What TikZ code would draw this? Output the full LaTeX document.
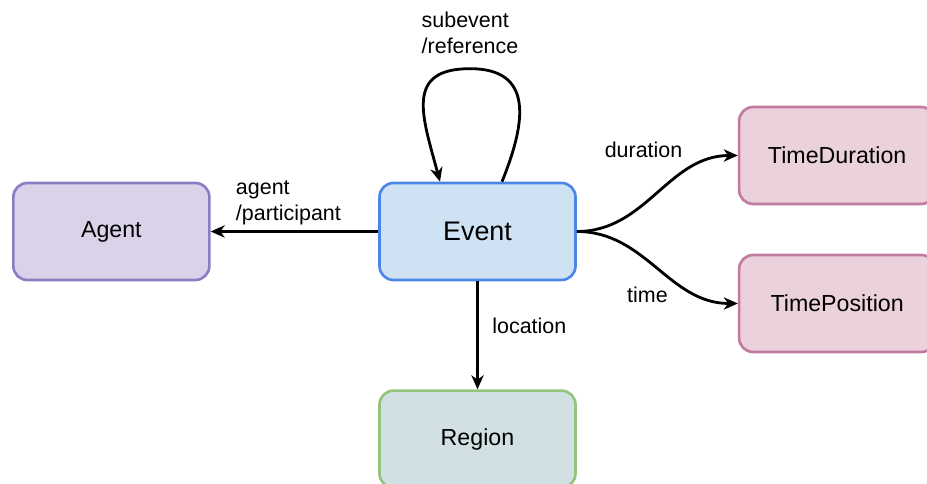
\documentclass[tikz,border=0pt]{standalone}
\usepackage{fontspec}
\setmainfont{Liberation Sans}
\usetikzlibrary{arrows.meta,positioning,calc}

\definecolor{evfill}{HTML}{CFE2F3}
\definecolor{evline}{HTML}{4A86E8}
\definecolor{agfill}{HTML}{D9D2E9}
\definecolor{agline}{HTML}{8E7CC3}
\definecolor{rgfill}{HTML}{D0E0E3}
\definecolor{rgline}{HTML}{93C47D}
\definecolor{tmfill}{HTML}{EAD1DC}
\definecolor{tmline}{HTML}{C27BA0}

\begin{document}
\begin{tikzpicture}[
            box/.style = {rectangle, draw, line width=1.5pt, minimum width=3.92cm, minimum height=1.94cm, align=center, rounded corners=0.28cm, font=\fontsize{13.2}{15}\selectfont},
            eventbox/.style = {box, draw=evline, fill=evfill, font=\fontsize{15.3}{18}\selectfont},
            agentbox/.style = {box, draw=agline, fill=agfill},
            regionbox/.style = {box, draw=rgline, fill=rgfill},
            timebox/.style = {box, draw=tmline, fill=tmfill},
            link/.style = {line width=1.6pt, -{Stealth[length=8pt, width=7pt, inset=2.5pt]}},
            lbl/.style = {inner sep=0pt, align=left, font=\fontsize{12.2}{14.7}\selectfont}
        ]
        \useasboundingbox (-9.55,-5.05) rectangle (8.99,4.63);

        % Nodo central
        \node [eventbox] (event) {Event};

        % Nodos alrededor
        \node [agentbox, left=3.35cm of event] (agent) {Agent};
        \node [regionbox, below=2.16cm of event] (region) {Region};
        \node [timebox, right=3.22cm of event, yshift=1.52cm] (timedur) {TimeDuration};
        \node [timebox, right=3.22cm of event, yshift=-1.44cm] (timepos) {TimePosition};

        % Relaciones
        \draw [link] (event.west) -- node[lbl, above=0.1cm, xshift=-0.12cm] {agent\\/participant} (agent.east);
        \draw [link] (event.south) -- node[lbl, pos=0.41, right=0.27cm] {location} (region.north);
        \draw [link] (event.east) to[out=0, in=180] node[lbl, pos=0.4, above=0.92cm] {duration} (timedur.west);
        \draw [link] (event.east) to[out=0, in=180] node[lbl, pos=0.4, below=0.58cm, xshift=0.08cm] {time} (timepos.west);

        % Bucle sobre Event
        \draw [link] ([xshift=0.49cm]event.north) to[out=68, in=0, looseness=1.4] ++(-0.64,2.26) coordinate (looptop)
            to[out=180, in=105, looseness=1.45] ([xshift=-0.75cm]event.north);
        \node [lbl, above=0.3cm of looptop] (selflbl) {subevent\\/reference};

    \end{tikzpicture}
\end{document}
